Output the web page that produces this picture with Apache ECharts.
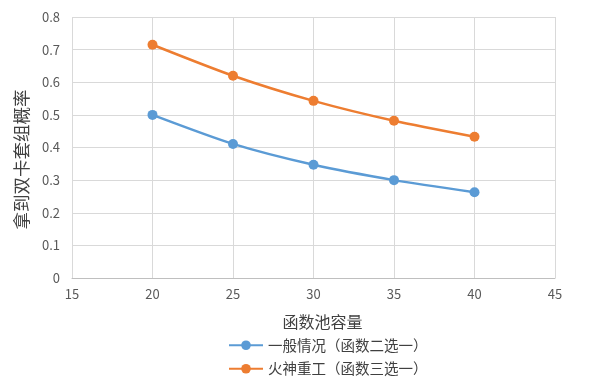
<!DOCTYPE html>
<html><head><meta charset="utf-8">
<script src="https://cdn.jsdelivr.net/npm/echarts@6/dist/echarts.min.js"></script>
<style>html,body{margin:0;padding:0;background:#fff}#c{width:594px;height:388px}</style>
</head><body><div id="c"></div>
<script>
const xValues = [20, 25, 30, 35, 40];
const seriesNames = ['一般情况（函数二选一）', '火神重工（函数三选一）'];
const normalValues = [0.500, 0.411, 0.347, 0.300, 0.263];
const vulcanValues = [0.715, 0.620, 0.543, 0.482, 0.433];
const xTitle = '函数池容量';
const yTitle = '拿到双卡套组概率';

const font = '"Noto Sans CJK SC", "Noto Sans", sans-serif';
const chart = echarts.init(document.getElementById('c'));
const pairs = v => xValues.map((x, i) => [x, v[i]]);
chart.setOption({
  animation: false,
  backgroundColor: '#fff',
  grid: {left: 72, right: 39, top: 17, bottom: 110},
  xAxis: {
    type: 'value', min: 15, max: 45, interval: 5,
    name: xTitle, nameLocation: 'middle', nameGap: 36,
    nameTextStyle: {fontFamily: font, fontSize: 16, color: '#404040', padding: [0, 0, 0, 18]},
    axisLine: {show: true, lineStyle: {color: '#BFBFBF', width: 1}},
    axisTick: {show: false},
    axisLabel: {fontFamily: font, fontSize: 13, color: '#595959', margin: 10},
    splitLine: {show: true, lineStyle: {color: '#D9D9D9', width: 1}}
  },
  yAxis: {
    type: 'value', min: 0, max: 0.8, interval: 0.1,
    name: yTitle, nameLocation: 'middle', nameGap: 42,
    nameTextStyle: {fontFamily: font, fontSize: 17.5, color: '#404040', padding: [0, 24, 0, 0]},
    axisLine: {show: false}, axisTick: {show: false},
    axisLabel: {fontFamily: font, fontSize: 13, color: '#595959', margin: 12,
      formatter: v => (Math.round(v * 10) / 10).toString()},
    splitLine: {show: true, lineStyle: {color: '#D9D9D9', width: 1}}
  },
  legend: {
    orient: 'vertical', left: 223, top: 333, itemGap: 9,
    itemWidth: 34, itemHeight: 12,
    textStyle: {fontFamily: font, fontSize: 14.5, color: '#404040'},
    data: seriesNames
  },
  series: [
    {name: seriesNames[0], type: 'line', data: pairs(normalValues), smooth: 0.25,
     symbol: 'circle', symbolSize: 10, color: '#5B9BD5',
     lineStyle: {width: 2.5, color: '#5B9BD5'}, itemStyle: {color: '#5B9BD5'}},
    {name: seriesNames[1], type: 'line', data: pairs(vulcanValues), smooth: 0.25,
     symbol: 'circle', symbolSize: 10, color: '#ED7D31',
     lineStyle: {width: 2.5, color: '#ED7D31'}, itemStyle: {color: '#ED7D31'}}
  ]
});
</script></body></html>
